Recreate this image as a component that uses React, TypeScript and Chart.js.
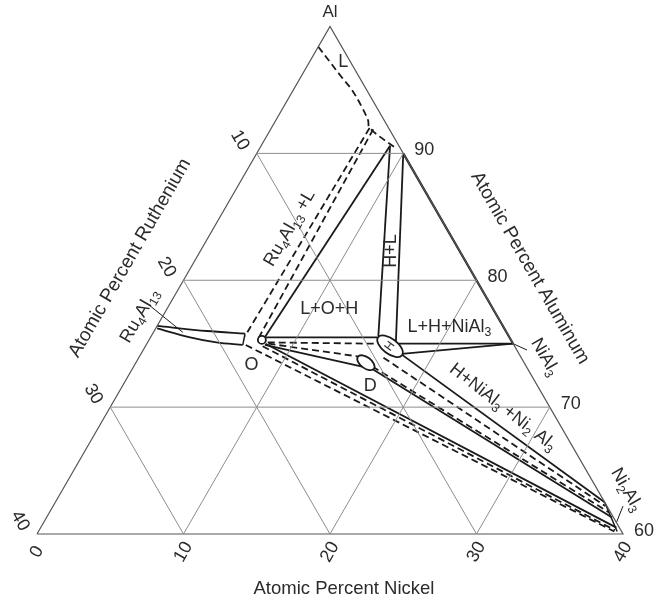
import React, { useEffect, useRef } from "react";
import { Chart, registerables } from "chart.js";

Chart.register(...registerables);

type P = [number, number]; // [at.% Ni, at.% Ru]; Al = 100 - Ni - Ru

// ---------------- data ----------------
const niTicks = [0, 10, 20, 30, 40];
const ruTicks = [10, 20, 30, 40];
const alTicks = [60, 70, 80, 90];
const gridSteps = [10, 20, 30];

const liquidus: P[] = [[0, 1.6], [1.4, 1.4], [2.8, 1.2], [4.0, 1.0], [5.4, 1.0], [6.3, 1.1], [6.7, 1.3], [9.3, 0.3]];
const ru4al13Upper: P[] = [[0, 23.6], [3.6, 20.4], [6.3, 17.9]];
const ru4al13Lower: P[] = [[0.1, 23.7], [2.7, 21.8], [4.7, 20.2], [6.6, 18.5]];
const ru4al13End: P[] = [[6.3, 17.9], [6.6, 18.5]];
const ruLiqTie1: P[] = [[6.7, 1.3], [6.4, 18.0]];
const ruLiqTie2: P[] = [[7.0, 1.1], [7.4, 17.1]];
const oLiq: P[] = [[7.8, 16.7], [8.8, 0.6]];
const hLiqLeft: P[] = [[15.5, 8.9], [8.8, 0.6]];
const hLiqRight: P[] = [[16.9, 7.9], [10.0, 0.0]];
const oH: P[] = [[7.7, 16.8], [15.5, 9.0]];
const hNiAl3Upper: P[] = [[17.0, 8.0], [25.0, 0.0]];
const hNiAl3Lower: P[] = [[17.8, 8.0], [25.0, 0.0]];
const oHTie: P[] = [[8.2, 16.7], [15.7, 9.3]];
const oDTie: P[] = [[8.3, 16.7], [14.9, 11.1]];
const oD: P[] = [[8.1, 17.0], [15.6, 11.2]];
const hNi2Al3: P[] = [[17.9, 8.0], [37.5, 0.0]];
const hNi2Al3Tie1: P[] = [[16.7, 9.4], [37.7, 0.1]];
const hNi2Al3Tie2: P[] = [[16.3, 10.5], [38.2, 0.1]];
const dNi2Al3: P[] = [[16.2, 10.7], [38.6, 0.1]];
const oNi2Al3: P[] = [[8.1, 16.9], [39.3, 0.2]];
const oNi2Al3Tie1: P[] = [[8.0, 17.2], [39.3, 0.4]];
const oNi2Al3Tie2: P[] = [[6.8, 18.3], [39.3, 0.5]];
const ni2Al3Boundary: P[] = [[37.5, 0.0], [39.5, 0.3]];
const alNiBinary: P[] = [[10.0, 0.0], [25.0, 0.0]];
const leaderRu4Al13: P[] = [[-1.3, 23.3], [2.0, 22.1]];
const leaderNiAl3: P[] = [[25.0, 0.0], [26.2, -0.7]];
const leaderNi2Al3: P[] = [[39.1, 0.0], [38.9, -1.1]];

const phaseH: P = [16.7, 8.5];
const phaseD: P = [15.7, 10.8];
const phaseO: P = [7.7, 17.0];

// ---------------- geometry / style ----------------
const W = 668;
const HGT = 602;
const S60 = Math.sqrt(3) / 2;
const toXY = ([ni, ru]: P) => ({ x: 20 + 0.5 * ni - 0.5 * ru, y: (40 - ni - ru) * S60 });
const X_MIN = -2.5256, X_MAX = 43.072, Y_MIN = -4.6416, Y_MAX = 36.451;
const INK = "#1a1a1a";
const GRID = "#8c8c8c";
const EDGE = "#555555";
const TXT = "#2b2b2b";
const FONT = '"Liberation Sans", Arial, Helvetica, sans-serif';

const line = (pts: P[], o: { dash?: boolean; width?: number; color?: string; tension?: number } = {}) => ({
  data: pts.map(toXY),
  showLine: true,
  pointRadius: 0,
  borderColor: o.color ?? INK,
  borderWidth: o.width ?? 1.8,
  borderDash: o.dash ? [7, 4] : [],
  tension: o.tension ?? 0,
  fill: false,
  clip: false as any,
});

const gridLines: P[][] = [];
gridSteps.forEach((v) => {
  gridLines.push([[0, 40 - (100 - (100 - v)) + 0 - 0 + 0], [0, 0]]);
});
// rebuild grid properly
gridLines.length = 0;
gridSteps.forEach((v) => {
  const al = 100 - v; // Al grid (70,80,90 for v=30,20,10)
  gridLines.push([[0, 100 - al], [100 - al, 0]]);
  gridLines.push([[v, 40 - v], [v, 0]]); // constant Ni
  gridLines.push([[40 - v, v], [0, v]]); // constant Ru
});
// Al=70 etc must be 70,80,90 -> v = 30,20,10 gives Ru = 30,20,10 at left edge: fine

const frame: P[] = [[0, 40], [40, 0], [0, 0], [0, 40]];

const datasets: any[] = [
  ...gridLines.map((g) => line(g, { color: GRID, width: 1 })),
  line(frame, { color: EDGE, width: 1.2 }),
  line(alNiBinary, { width: 2.2 }),
  line(liquidus, { dash: true, tension: 0.35 }),
  line(ru4al13Upper, { tension: 0.3 }),
  line(ru4al13Lower, { tension: 0.35 }),
  line(ru4al13End, { width: 1.5 }),
  line(ruLiqTie1, { dash: true }),
  line(ruLiqTie2, { dash: true }),
  line(oLiq),
  line(hLiqLeft),
  line(hLiqRight),
  line(oH),
  line(hNiAl3Upper),
  line(hNiAl3Lower),
  line(oHTie, { dash: true }),
  line(oDTie, { dash: true }),
  line(oD),
  line(hNi2Al3),
  line(hNi2Al3Tie1, { dash: true }),
  line(hNi2Al3Tie2, { dash: true }),
  line(dNi2Al3),
  line(oNi2Al3),
  line(oNi2Al3Tie1, { dash: true }),
  line(oNi2Al3Tie2, { dash: true }),
  line(ni2Al3Boundary, { width: 1.5 }),
  line(leaderRu4Al13, { width: 1 }),
  line(leaderNiAl3, { width: 1 }),
  line(leaderNi2Al3, { width: 1 }),
];

type Seg = [string, number];
const phaseLabels: { at: P; segs: Seg[]; rot: number; size?: number }[] = [
  { at: [2.3, 0.5], segs: [["L", 0]], rot: 0 },
  { at: [5.2, 10.7], segs: [["Ru", 0], ["4", 1], ["Al", 0], ["13", 1], [" +L", 0]], rot: -60 },
  { at: [13.0, 4.7], segs: [["H+L", 0]], rot: -90 },
  { at: [11.1, 11.2], segs: [["L+O+H", 0]], rot: 0 },
  { at: [20.0, 3.7], segs: [["L+H+NiAl", 0], ["3", 1]], rot: 0 },
  { at: [-1.6, 24.4], segs: [["Ru", 0], ["4", 1], ["Al", 0], ["13", 1]], rot: -60 },
  { at: [8.0, 18.7], segs: [["O", 0]], rot: 0 },
  { at: [16.9, 11.4], segs: [["D", 0]], rot: 0 },
  { at: [16.7, 8.5], segs: [["H", 0]], rot: -53, size: 12 },
  { at: [27.7, -1.65], segs: [["NiAl", 0], ["3", 1]], rot: 60 },
  { at: [26.8, 3.2], segs: [["H+NiAl", 0], ["3", 1], [" +Ni", 0], ["2", 1], [" Al", 0], ["3", 1]], rot: 38 },
  { at: [38.5, -2.0], segs: [["Ni", 0], ["2", 1], ["Al", 0], ["3", 1]], rot: 60 },
];

function drawRich(ctx: CanvasRenderingContext2D, segs: Seg[], cx: number, cy: number, rot: number, size: number, align: "center" | "left" = "center") {
  ctx.save();
  ctx.translate(cx, cy);
  ctx.rotate((rot * Math.PI) / 180);
  ctx.fillStyle = TXT;
  ctx.textBaseline = "middle";
  ctx.textAlign = "left";
  const sub = size * 0.68;
  let total = 0;
  const ws = segs.map(([t, s]) => {
    ctx.font = `${s ? sub : size}px ${FONT}`;
    const w = ctx.measureText(t).width;
    total += w;
    return w;
  });
  let x = align === "center" ? -total / 2 : 0;
  segs.forEach(([t, s], i) => {
    ctx.font = `${s ? sub : size}px ${FONT}`;
    ctx.fillText(t, x, s ? size * 0.32 : 0);
    x += ws[i];
  });
  ctx.restore();
}

const annotate = {
  id: "annotate",
  afterDatasetsDraw(chart: any) {
    const { ctx, scales } = chart;
    const px = (p: P): [number, number] => {
      const c = toXY(p);
      return [scales.x.getPixelForValue(c.x), scales.y.getPixelForValue(c.y)];
    };
    ctx.save();
    // phase ellipses
    const ell = (p: P, rx: number, ry: number, ang: number) => {
      const [x, y] = px(p);
      ctx.beginPath();
      ctx.ellipse(x, y, rx, ry, (ang * Math.PI) / 180, 0, Math.PI * 2);
      ctx.fillStyle = "#ffffff";
      ctx.fill();
      ctx.lineWidth = 1.8;
      ctx.strokeStyle = INK;
      ctx.stroke();
    };
    ell(phaseH, 15, 7.5, 37);
    ell(phaseD, 10, 5.5, 37);
    ell(phaseO, 4, 4, 0);
    ctx.restore();

    // tick labels
    niTicks.forEach((v) => {
      const [x, y] = px([v, 40 - v]);
      drawRich(ctx, [[String(v), 0]], x, y + 18, -60, 18);
    });
    ruTicks.forEach((v) => {
      const [x, y] = px([0, v]);
      drawRich(ctx, [[String(v), 0]], x - 17, y - 13, 60, 18);
    });
    alTicks.forEach((v) => {
      const [x, y] = px([100 - v, 0]);
      drawRich(ctx, [[String(v), 0]], x + 11, y - 3, 0, 18, "left");
    });

    // axis titles
    const [ax, ay] = px([0, 0]);
    drawRich(ctx, [["Al", 0]], ax, ay - 14, 0, 17);
    const [bl] = px([0, 40]);
    const [br, by] = px([40, 0]);
    drawRich(ctx, [["Atomic Percent Nickel", 0]], (bl + br) / 2 + 14, by + 55, 0, 18.5);
    drawRich(ctx, [["Atomic Percent Ruthenium", 0]], 130, 258, -60, 19);
    drawRich(ctx, [["Atomic Percent Aluminum", 0]], 530, 268, 60, 19);

    // phase labels
    phaseLabels.forEach((l) => {
      const [x, y] = px(l.at);
      drawRich(ctx, l.segs, x, y, l.rot, l.size ?? 18);
    });
  },
};

export default function App() {
  const ref = useRef<HTMLCanvasElement>(null);
  useEffect(() => {
    const chart = new Chart(ref.current as HTMLCanvasElement, {
      type: "scatter",
      data: { datasets },
      options: {
        animation: false,
        responsive: false,
        devicePixelRatio: 1,
        events: [],
        layout: { padding: 0 },
        plugins: { legend: { display: false }, tooltip: { enabled: false } },
        scales: {
          x: { type: "linear", min: X_MIN, max: X_MAX, display: false },
          y: { type: "linear", min: Y_MIN, max: Y_MAX, display: false },
        },
      } as any,
      plugins: [annotate],
    });
    return () => chart.destroy();
  }, []);
  return (
    <div style={{ position: "absolute", left: 0, top: 0, width: W, height: HGT, background: "#fff" }}>
      <canvas ref={ref} width={W} height={HGT} style={{ display: "block", width: W, height: HGT }} />
    </div>
  );
}
